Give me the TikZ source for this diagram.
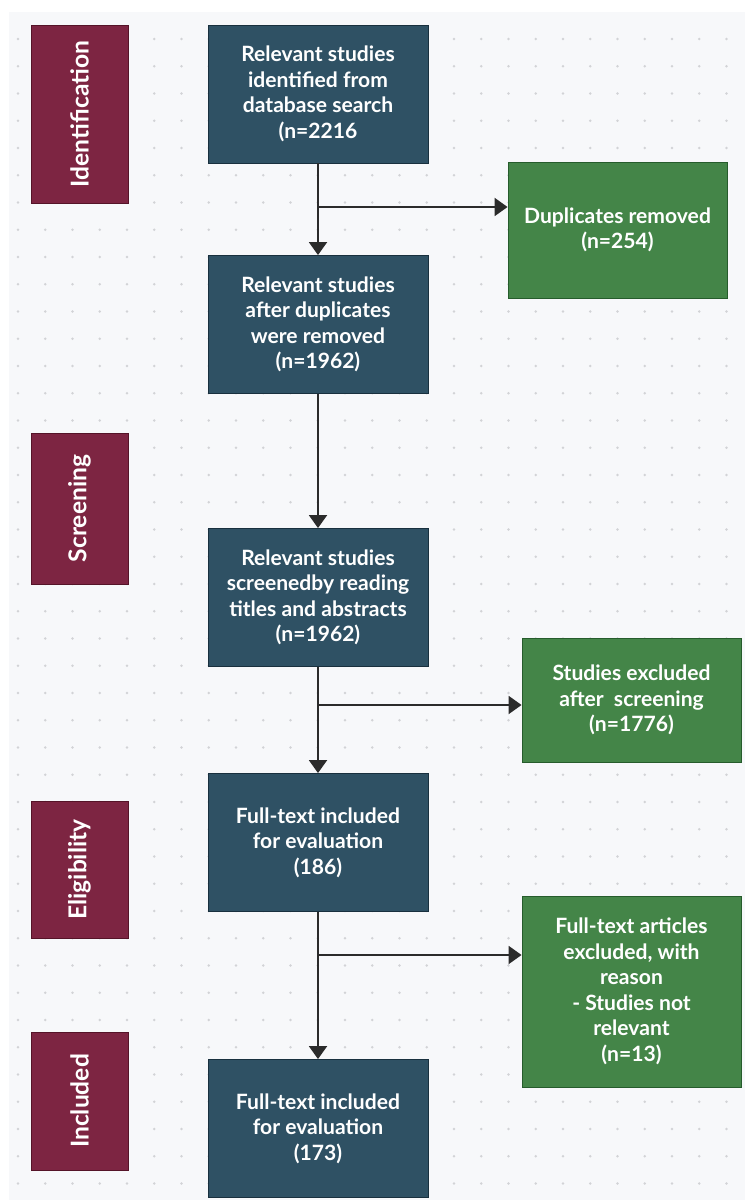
\documentclass[tikz,border=0pt]{standalone}
\usepackage{fontspec}
\setmainfont{Lato}
\usetikzlibrary{arrows.meta, calc}
\definecolor{stagered}{RGB}{125,37,66}
\definecolor{stageedge}{RGB}{85,20,40}
\definecolor{stepblue}{RGB}{47,81,100}
\definecolor{stepedge}{RGB}{25,48,62}
\definecolor{outgreen}{RGB}{68,133,72}
\definecolor{outedge}{RGB}{38,92,44}
\definecolor{paper}{RGB}{247,248,250}
\definecolor{dotgray}{RGB}{210,211,214}
\definecolor{flowline}{RGB}{43,43,43}

\begin{document}
\begin{tikzpicture}[x=0.2mm, y=-0.2mm,
    >={Triangle[width=3.6mm, length=2.6mm]},
    stage/.style={draw=stageedge, fill=stagered, line width=0.5pt, rotate=90,
      minimum height=19.4mm, text=white, font=\bfseries\fontsize{14}{16}\selectfont},
    stepbox/.style={draw=stepedge, fill=stepblue, line width=0.5pt,
      minimum width=44mm, minimum height=27.6mm, align=center, text=white,
      font=\bfseries\fontsize{12}{14.5}\selectfont},
    outbox/.style={draw=outedge, fill=outgreen, line width=0.5pt,
      minimum width=43.8mm, align=center, text=white,
      font=\bfseries\fontsize{12}{14.5}\selectfont},
    flow/.style={->, flowline, line width=0.4mm}]
  \useasboundingbox (0,0) rectangle (751,1200);

  % Dotted paper
  \fill[paper] (9,12) rectangle (745,1200);
  \foreach \i in {0,...,26}
    \foreach \j in {1,...,43}
      \fill[dotgray] (18+27.25*\i, 11.75+27.25*\j) circle (0.26mm);

  % Stages
  \node[stage, minimum width=35.6mm] (ident) at (79.5,114) {Identification};
  \node[stage, minimum width=30.2mm] (screen) at (79.5,508.5) {Screening};
  \node[stage, minimum width=27.4mm] (elig) at (79.5,869.5) {Eligibility};
  \node[stage, minimum width=27.6mm] (incl) at (79.5,1101) {Included};

  % Main steps
  \node[stepbox] (found) at (318,94) {Relevant studies\\identified from\\database search\\(n=2216};
  \node[stepbox] (dedup) at (318,324.5) {Relevant studies\\after duplicates\\were removed\\(n=1962)};
  \node[stepbox] (screened) at (318,597.5) {Relevant studies\\screenedby reading\\titles and abstracts\\(n=1962)};
  \node[stepbox] (fulltext) at (318,842.5) {Full-text included\\for evaluation\\(186)};
  \node[stepbox] (final) at (318,1128.5) {Full-text included\\for evaluation\\(173)};

  % Removed records
  \node[outbox, minimum height=27.2mm] (dup) at (617.5,230) {Duplicates removed\\(n=254)};
  \node[outbox, minimum height=24.8mm] (exscreen) at (631.5,700) {Studies excluded\\after\ \ screening\\(n=1776)};
  \node[outbox, minimum height=38.2mm] (exfull) at (631.5,991.5) {Full-text articles\\excluded, with\\reason\\- Studies not\\relevant\\(n=13)};

  % Flow
  \draw[flow] (found) -- (dedup);
  \draw[flow] (dedup) -- (screened);
  \draw[flow] (screened) -- (fulltext);
  \draw[flow] (fulltext) -- (final);

  \coordinate (j1) at (318,207);
  \coordinate (j2) at (318,705);
  \coordinate (j3) at (318,955);
  \draw[flow] (j1) -- (j1 -| dup.west);
  \draw[flow] (j2) -- (j2 -| exscreen.west);
  \draw[flow] (j3) -- (j3 -| exfull.west);
\end{tikzpicture}
\end{document}
